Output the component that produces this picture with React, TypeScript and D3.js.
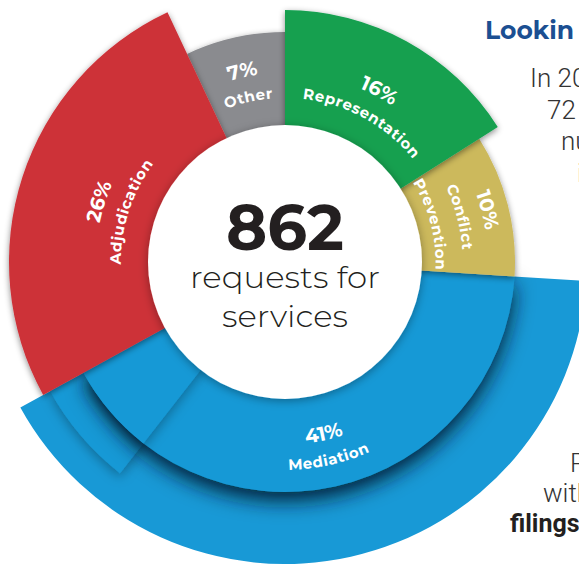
import React from 'react';
import * as d3 from 'd3';

// shares of the 862 requests, clockwise from 12 o'clock
const categories = ['Representation', 'Conflict Prevention', 'Mediation', 'Adjudication', 'Other'];
const shares = [16, 10, 41, 26, 7];
const labelLines = [['Representation'], ['Conflict', 'Prevention'], ['Mediation'], ['Adjudication'], ['Other']];
const totalRequests = 862;
const centerLines = ['requests for', 'services'];
const sideTop = ['In 20', '72', 'nu', 'i'];
const sideBottom = ['R', 'with'];

const width = 579,
  height = 564;

export default function App() {
  const cx = 285,
    cy = 262,
    rInner = 137;

  const colors: Record<string, string> = {
    Representation: '#13a04f',
    'Conflict Prevention': '#ccb95c',
    Mediation: '#1899d6',
    Adjudication: '#cd3139',
    Other: '#8a8b8f'
  };
  const outer: Record<string, number> = {
    Representation: 252,
    'Conflict Prevention': 230,
    Mediation: 230,
    Adjudication: 276,
    Other: 230
  };
  const mediationOuter = 302;

  const pie = d3
    .pie<number>()
    .sort(null)
    .value(d => d);
  const slices = pie(shares);
  const byName: Record<string, d3.PieArcDatum<number>> = {};
  slices.forEach((s, i) => (byName[categories[i]] = s));

  const arc = d3.arc<any>();
  const med = byName['Mediation'];
  const toRad = (deg: number) => (deg * Math.PI) / 180;

  // draw order so the shadows fall the same way
  const order = ['Conflict Prevention', 'Other', 'Representation', 'Adjudication'];

  const pt = (r: number, a: number) => [r * Math.sin(a), -r * Math.cos(a)];
  const textArc = (r: number, mid: number, flip: boolean) => {
    const span = toRad(70);
    const a0 = flip ? mid + span : mid - span,
      a1 = flip ? mid - span : mid + span;
    const p0 = pt(r, a0),
      p1 = pt(r, a1);
    return `M ${p0[0]} ${p0[1]} A ${r} ${r} 0 0 ${flip ? 0 : 1} ${p1[0]} ${p1[1]}`;
  };

  const labels: any[] = [];
  slices.forEach((s, i) => {
    const mid = (s.startAngle + s.endAngle) / 2;
    const deg = (mid * 180) / Math.PI;
    const flip = deg > 90 && deg < 270;
    const lines = [{ t: `${shares[i]}%`, fs: 20, ls: 0 }].concat(labelLines[i].map(t => ({ t, fs: 15, ls: 0.6 })));
    const rc = flip ? 189 : 183;
    const steps = lines.map((d, k) => (k === 0 ? 0 : 27));
    let acc = 0;
    const offs = steps.map(v => (acc += v));
    const half = offs[offs.length - 1] / 2;
    lines.forEach((ln, k) => {
      const dist = offs[k] - half; // distance from pct line toward inner
      const rCenter = flip ? rc + dist : rc - dist;
      const rBase = flip ? rCenter + ln.fs * 0.36 : rCenter - ln.fs * 0.36;
      labels.push({ id: `lbl-${i}-${k}`, d: textArc(rBase, mid, flip), ...ln });
    });
  });

  const font = "Montserrat, 'Open Sans', sans-serif";

  return (
    <div style={{ position: 'absolute', left: 0, top: 0 }}>
      <svg width={width} height={height} style={{ display: 'block', background: '#fff' }}>
        <defs>
          <filter id="sh" x="-30%" y="-30%" width="160%" height="160%">
            <feDropShadow dx="0" dy="2" stdDeviation="3" floodColor="#000" floodOpacity="0.45" />
          </filter>
          <filter id="shSoft" x="-30%" y="-30%" width="160%" height="160%">
            <feDropShadow dx="0" dy="4" stdDeviation="6" floodColor="#000" floodOpacity="0.3" />
          </filter>
          <filter id="shDeep" x="-30%" y="-30%" width="160%" height="160%">
            <feDropShadow dx="0" dy="9" stdDeviation="10" floodColor="#031726" floodOpacity="0.9" />
          </filter>
          <filter id="shCircle" x="-30%" y="-30%" width="160%" height="160%">
            <feDropShadow dx="0" dy="2" stdDeviation="5" floodColor="#000" floodOpacity="0.35" />
          </filter>
        </defs>
        <g transform={`translate(${cx},${cy})`}>
          {/* mediation, wide outer band */}
          <path
            d={arc({ innerRadius: 225, outerRadius: mediationOuter, startAngle: med.startAngle, endAngle: med.endAngle }) || ''}
            fill={colors.Mediation}
          />
          <path
            d={arc({ innerRadius: 225, outerRadius: 268, startAngle: toRad(218), endAngle: med.endAngle }) || ''}
            fill={colors.Mediation}
            filter="url(#shSoft)"
          />
          <path
            d={arc({ innerRadius: rInner - 4, outerRadius: outer.Mediation, startAngle: med.startAngle, endAngle: med.endAngle }) || ''}
            fill={colors.Mediation}
            filter="url(#shDeep)"
          />
          <path
            d={arc({ innerRadius: rInner - 4, outerRadius: outer.Mediation, startAngle: toRad(218), endAngle: med.endAngle }) || ''}
            fill={colors.Mediation}
            filter="url(#shSoft)"
          />
          {order.map(name => {
            const s = byName[name];
            return (
              <path
                key={name}
                d={arc({ innerRadius: rInner - 4, outerRadius: outer[name], startAngle: s.startAngle, endAngle: s.endAngle }) || ''}
                fill={colors[name]}
                filter="url(#sh)"
              />
            );
          })}
          <circle r={rInner} fill="#fff" filter="url(#shCircle)" />

          <defs>
            {labels.map(l => (
              <path key={l.id} id={l.id} d={l.d} fill="none" />
            ))}
          </defs>
          {labels.map(l => (
            <text
              key={l.id + 't'}
              fill="#fff"
              fontFamily={font}
              fontWeight={700}
              fontSize={l.fs}
              letterSpacing={l.ls}
            >
              <textPath href={`#${l.id}`} startOffset="50%" textAnchor="middle">
                {l.t}
              </textPath>
            </text>
          ))}

          <text
            y={-12}
            textAnchor="middle"
            fontFamily={font}
            fontWeight={700}
            fontSize={63}
            fill="#231f20"
            textLength={118}
            lengthAdjust="spacingAndGlyphs"
          >
            {totalRequests}
          </text>
          {centerLines.map((t, i) => (
            <text
              key={t}
              y={26 + i * 39}
              textAnchor="middle"
              fontFamily={font}
              fontWeight={300}
              fontSize={30}
              fill="#231f20"
              textLength={i === 0 ? 190 : 126}
              lengthAdjust="spacingAndGlyphs"
            >
              {t}
            </text>
          ))}
        </g>

        <text x={485} y={39} fontFamily={font} fontWeight={700} fontSize={25} fill="#1b4f92">
          Lookin
        </text>
        {sideTop.map((t, i) => (
          <text
            key={t}
            x={[530, 547, 561, 577][i]}
            y={87 + i * 31.5}
            fontFamily="Roboto, sans-serif"
            fontWeight={300}
            fontSize={26}
            fill="#333"
          >
            {t}
          </text>
        ))}
        {sideBottom.map((t, i) => (
          <text
            key={t}
            x={[570, 543][i]}
            y={472 + i * 30}
            fontFamily="Roboto, sans-serif"
            fontWeight={300}
            fontSize={26}
            fill="#333"
          >
            {t}
          </text>
        ))}
        <text x={510} y={532} fontFamily="Roboto, sans-serif" fontWeight={700} fontSize={25} fill="#231f20">
          filings
        </text>
      </svg>
    </div>
  );
}
